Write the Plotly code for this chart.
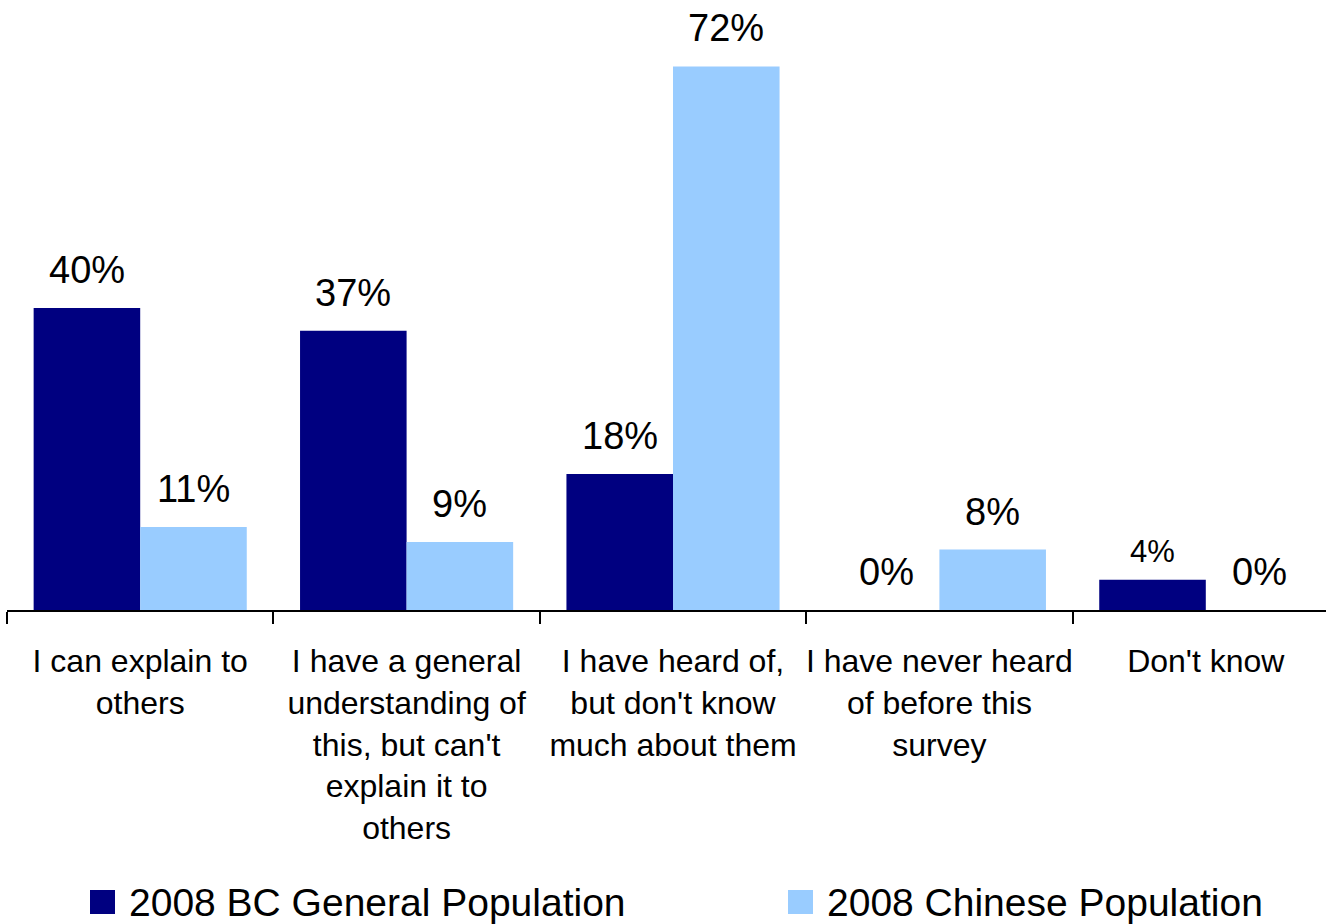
import plotly.graph_objects as go

categories = [
    "I can explain to<br>others",
    "I have a general<br>understanding of<br>this, but can't<br>explain it to<br>others",
    "I have heard of,<br>but don't know<br>much about them",
    "I have never heard<br>of before this<br>survey",
    "Don't know",
]
series_names = ["2008 BC General Population", "2008 Chinese Population"]
bc_general = [40, 37, 18, 0, 4]
chinese = [11, 9, 72, 8, 0]

colors = ["#000080", "#99CCFF"]
FONT = "Liberation Sans, Arial, Helvetica, sans-serif"

# figure geometry (pixels)
W, H = 1326, 924
ML, MR, MT, MB = 7, 0, 0, 314
PW, PH = W - ML - MR, H - MT - MB
CAT_W = 266.4  # pixel width of one category slot

fig = go.Figure()
for name, vals, col in zip(series_names, [bc_general, chinese], colors):
    fig.add_trace(go.Bar(
        x=categories, y=vals, name=name,
        marker=dict(color=col, line=dict(width=0)),
        showlegend=False,
    ))

# value labels above each bar
half = 0.2  # half of a bar width in category units (bargap 0.2, two bars)
annotations = []
for vals, dx in zip([bc_general, chinese], [-half, half]):
    for i, v in enumerate(vals):
        small = (v == 4)
        annotations.append(dict(
            x=i + dx, y=v, xref="x", yref="y",
            text=f"{v}%", showarrow=False,
            xanchor="center", yanchor="middle",
            yshift=28 if small else 38,
            font=dict(family=FONT, size=31 if small else 38, color="#000000"),
        ))

# legend drawn as swatches + text
def px_x(px):
    return (px - ML) / PW

def px_y(py):
    return (MT + PH - py) / PH

shapes = []
legend_pos = [(90, 127), (788, 825)]
for (sx, tx), name, col in zip(legend_pos, series_names, colors):
    shapes.append(dict(
        type="rect", xref="paper", yref="paper",
        x0=px_x(sx), x1=px_x(sx + 25), y0=px_y(914), y1=px_y(890),
        fillcolor=col, line=dict(width=0),
    ))
    annotations.append(dict(
        x=px_x(tx), y=px_y(902), xref="paper", yref="paper",
        text=name, showarrow=False, xanchor="left", yanchor="middle",
        font=dict(family=FONT, size=39, color="#000000"),
    ))

fig.update_layout(
    width=W, height=H,
    margin=dict(l=ML, r=MR, t=MT, b=MB, pad=0, autoexpand=False),
    paper_bgcolor="white", plot_bgcolor="white",
    barmode="group", bargap=0.2, bargroupgap=0,
    annotations=annotations, shapes=shapes,
    font=dict(family=FONT, color="#000000"),
)
fig.update_xaxes(
    type="category", automargin=False, tickangle=0,
    range=[-0.5, -0.5 + PW / CAT_W],
    tickson="boundaries", ticks="outside", ticklen=12, tickwidth=1.5, tickcolor="#000000",
    showline=True, linecolor="#000000", linewidth=2,
    showgrid=False, zeroline=False,
    tickfont=dict(family=FONT, size=32, color="#000000"),
    ticklabelstandoff=22,
)
fig.update_yaxes(
    range=[0, PH / 7.55], visible=False, showgrid=False, zeroline=False,
    automargin=False,
)

fig.write_html("out.html")
